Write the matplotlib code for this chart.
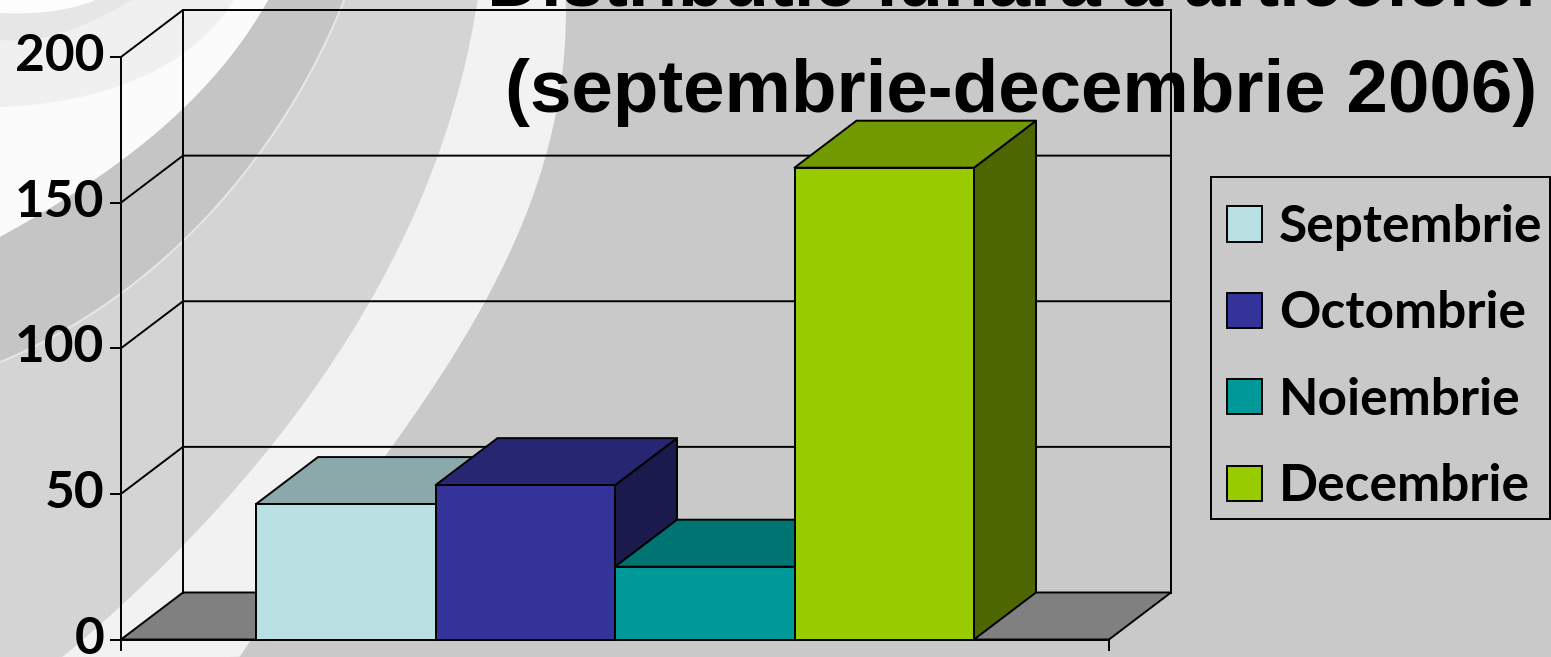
import numpy as np
import matplotlib
matplotlib.use("Agg")
import matplotlib.pyplot as plt
from matplotlib.patches import Polygon, Patch, Rectangle
from matplotlib.transforms import ScaledTranslation

# ---- data ----
months = ["Septembrie", "Octombrie", "Noiembrie", "Decembrie"]
values = [46.5, 53, 25, 162]
colors = ["#B9E0E3", "#333399", "#009999", "#99CC00"]
y_ticks = [0, 50, 100, 150, 200]
title_1 = "Distributie lunara a articolelor"
title_2 = "(septembrie-decembrie 2006)"

W, H = 1551, 657
fig = plt.figure(figsize=(W / 100, H / 100), dpi=100, facecolor="#C9C9C9")

# ---- decorative background (pixel coordinates) ----
bg = fig.add_axes([0, 0, 1, 1], zorder=0)
bg.set_xlim(0, W); bg.set_ylim(H, 0); bg.axis("off")


def smooth(pts, deg=3):
    p = np.array(pts, float)
    t = np.r_[0, np.cumsum(np.hypot(*np.diff(p, axis=0).T))]
    tt = np.linspace(0, t[-1], 120)
    return np.c_[np.polyval(np.polyfit(t, p[:, 0], deg), tt),
                 np.polyval(np.polyfit(t, p[:, 1], deg), tt)]


def region(curve, color, corners):
    bg.add_patch(Polygon(np.r_[smooth(curve), corners], closed=True, fc=color, ec="none"))


white_outer = [(567, -2), (549, 126), (491, 302), (393, 440), (240, 657)]
white_inner = [(478, -2), (442, 142), (370, 302), (277, 440), (180, 547), (63, 657)]
thin_line = [(345, -2), (268, 142), (183, 240), (113, 300), (0, 362)]
dark_edge = [(270, -2), (233, 50), (182, 113), (120, 160), (0, 237)]

region(white_outer, "#F2F2F2", [(-5, H + 5), (-5, -5)])
region(white_inner, "#D4D4D4", [(-5, H + 5), (-5, -5)])
region(thin_line, "#C5C5C5", [(-5, 362), (-5, -5)])
c = smooth(thin_line)
bg.plot(c[:, 0], c[:, 1], color="#E6E6E6", lw=1.5)
region(dark_edge, "#FBFBFB", [(-5, -5)])
region([(235, -2), (200, 40), (100, 92), (0, 107)], "#F0F0F0", [(-5, -5)])
region([(135, -2), (90, 22), (40, 38), (0, 40)], "#E6E6E6", [(-5, -5)])
region([(100, -2), (70, 8), (30, 13), (0, 13)], "#FDFDFD", [(-5, -5)])
LW = 1.4
bg.add_patch(Rectangle((1211, 177), 339, 342, fc="none", ec="black", lw=LW))

# ---- chart axes ----
x0, x1, y0, y1 = 121, 1109, 639.5, 57
ax = fig.add_axes([x0 / W, (H - y0) / H, (x1 - x0) / W, (y0 - y1) / H], zorder=2)
ax.patch.set_alpha(0)
ax.set_ylim(y_ticks[0], y_ticks[-1])
margin = 135 / 179.5
xl, xr = -0.5 - margin, len(values) - 0.5 + margin
ax.set_xlim(xl, xr)
for s in ax.spines.values():
    s.set_visible(False)

dx = 62 / 179.5
dy = 47 / 2.9125
line = dict(color="black", lw=LW, clip_on=False, solid_capstyle="projecting")

ax.add_patch(Polygon([(xl, 0), (xr, 0), (xr + dx, dy), (xl + dx, dy)], closed=True,
                     fc="#808080", ec="black", lw=LW, clip_on=False, joinstyle="round"))
ax.plot([xl, xl], [0, y_ticks[-1]], **line)
ax.plot([xl + dx, xl + dx], [dy, y_ticks[-1] + dy], **line)
ax.plot([xr + dx, xr + dx], [dy, y_ticks[-1] + dy], **line)
for t in y_ticks[1:]:
    ax.plot([xl, xl + dx, xr + dx], [t, t + dy, t + dy], **line)


def shade(col, f):
    return tuple(v * f for v in matplotlib.colors.to_rgb(col))


poly = dict(ec="black", lw=LW, clip_on=False, joinstyle="round")
for i, (v, col) in enumerate(zip(values, colors)):
    z = 3 + i
    l, r = i - 0.5, i + 0.5
    ax.add_patch(Polygon([(r, 0), (r + dx, dy), (r + dx, v + dy), (r, v)], closed=True,
                         fc=shade(col, 0.5), zorder=z, **poly))
    ax.add_patch(Polygon([(l, v), (r, v), (r + dx, v + dy), (l + dx, v + dy)], closed=True,
                         fc=shade(col, 0.75), zorder=z, **poly))
    ax.bar(i, v, width=1, color=col, edgecolor="black", linewidth=LW, zorder=z, clip_on=False)
ax.plot([xl, xr], [0, 0], zorder=9, **line)

ax.set_yticks(y_ticks)
ax.set_yticklabels([str(t) for t in y_ticks], fontfamily="Lato", fontweight="bold", fontsize=37)
ax.tick_params(axis="y", length=8, width=LW, pad=4)
up = ScaledTranslation(0, 5 / 100, fig.dpi_scale_trans)
for lab in ax.get_yticklabels():
    lab.set_transform(lab.get_transform() + up)
ax.set_xticks([xl, xr])
ax.set_xticklabels(["", ""])
ax.tick_params(axis="x", length=8, width=LW)

# ---- legend ----
handles = [Patch(fc=c_, ec="black", lw=LW) for c_ in colors]
leg = fig.legend(handles, months, loc="upper left", bbox_to_anchor=(1227 / W, (H - 204) / H),
                 bbox_transform=fig.transFigure, frameon=False, borderaxespad=0, borderpad=0,
                 handlelength=0.68, handleheight=0.68, handletextpad=0.33, labelspacing=0.767,
                 prop=dict(family="Lato", weight="bold", size=37))
leg.set_zorder(5)

# ---- title ----
tkw = dict(family="Liberation Sans", weight="bold", fontsize=53.7, color="black",
           ha="center", va="baseline", zorder=6)
fig.text(1016 / W, (H - 5) / H, title_1, **tkw)
fig.text(1021 / W, (H - 112) / H, title_2, **tkw)

fig.savefig("out.png", dpi=100, facecolor=fig.get_facecolor())
